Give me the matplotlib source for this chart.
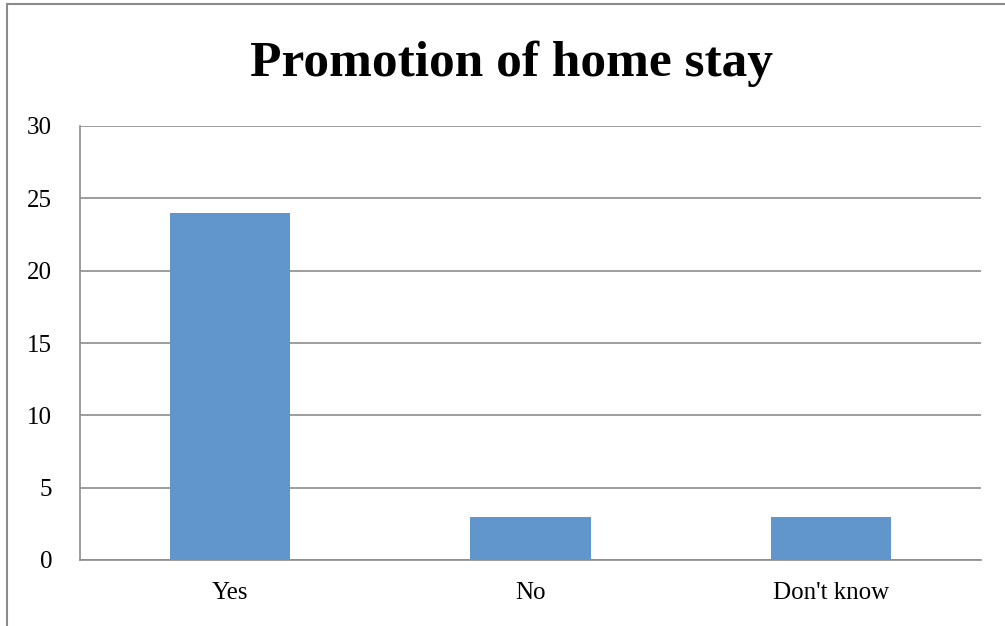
import matplotlib.pyplot as plt
from matplotlib.patches import Rectangle

categories = ["Yes", "No", "Don't know"]
values = [24, 3, 3]
yticks = [0, 5, 10, 15, 20, 25, 30]

W, H = 1005, 626
fig = plt.figure(figsize=(W / 100, H / 100), dpi=100)
plt.rcParams['font.family'] = ['Liberation Serif', 'DejaVu Serif']

# outer frame (runs off the right and bottom edges)
fig.patches.append(Rectangle((7 / W, -0.1), 1.2, 1 - 4 / H + 0.1,
                             transform=fig.transFigure, fill=False,
                             edgecolor='#8c8c8c', linewidth=1.5))

ax = fig.add_axes([80 / W, 1 - 560 / H, (981 - 80) / W, (560 - 126) / H])
x = range(len(categories))
ax.bar(x, values, width=0.4, color='#6096cb', zorder=3)
ax.set_xlim(-0.5, 2.5)
ax.set_ylim(0, 30)
ax.set_yticks(yticks)
ax.set_xticks(list(x))
ax.set_xticklabels(categories)
ax.tick_params(length=0, labelsize=18, colors='black')
ax.tick_params(axis='y', pad=20)
ax.tick_params(axis='x', pad=16)
ax.grid(axis='y', color='#8c8c8c', linewidth=1.2, zorder=0)
for s in ['top', 'right']:
    ax.spines[s].set_visible(False)
for s in ['left', 'bottom']:
    ax.spines[s].set_color('#8c8c8c')
    ax.spines[s].set_linewidth(1.2)

fig.text(511 / W, 1 - 64 / H, "Promotion of home stay", ha='center', va='center',
         fontsize=37, fontweight='bold')

fig.savefig('out.png', dpi=100)
